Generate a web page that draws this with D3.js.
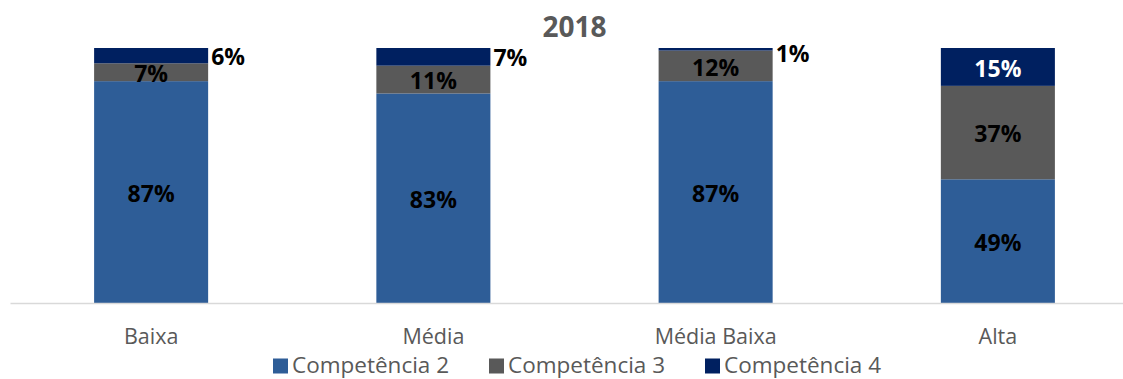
<!DOCTYPE html>
<html>
<head>
<meta charset="utf-8">
<script src="https://cdn.jsdelivr.net/npm/d3@7"></script>
<style>
  html, body { margin: 0; padding: 0; background: #fff; }
  svg { display: block; font-family: "Open Sans", sans-serif; }
</style>
</head>
<body>
<svg id="chart" width="1123" height="379"></svg>
<script>
// Categories and series (percent shares per group)
const categories = ["Baixa", "Média", "Média Baixa", "Alta"];
const seriesNames = ["Competência 2", "Competência 3", "Competência 4"];
const comp2 = [87, 83, 87, 49];
const comp3 = [7, 11, 12, 37];
const comp4 = [6, 7, 1, 15];
const chartTitle = "2018";

const colors = ["#2E5D97", "#595959", "#002060"];
const labelColors = ["#000", "#000", "#fff"];

const plotTop = 48, baseline = 303;

const svg = d3.select("#chart");

const rows = categories.map((c, i) => ({
  cat: c,
  "Competência 2": comp2[i],
  "Competência 3": comp3[i],
  "Competência 4": comp4[i]
}));

// 100% stacked layout
const stack = d3.stack().keys(seriesNames).offset(d3.stackOffsetExpand);
const layers = stack(rows);

const x = d3.scaleBand()
  .domain(categories)
  .range([10, 1139])
  .paddingInner(0.596)
  .paddingOuter(0.298);

const y = d3.scaleLinear().domain([0, 1]).range([baseline, plotTop]);

// Bars
const g = svg.append("g");
layers.forEach((layer, si) => {
  g.append("g")
    .attr("fill", colors[si])
    .selectAll("rect")
    .data(layer)
    .join("rect")
    .attr("x", d => x(d.data.cat))
    .attr("width", x.bandwidth())
    .attr("y", d => y(d[1]))
    .attr("height", d => y(d[0]) - y(d[1]));
});

// Category axis
const axis = svg.append("g")
  .attr("transform", `translate(0,${baseline})`)
  .call(d3.axisBottom(x).tickSize(0));
axis.select(".domain").attr("stroke", "#D9D9D9").attr("stroke-width", 1.5);
axis.selectAll("text")
  .attr("y", 41)
  .attr("dy", 0)
  .attr("fill", "#595959")
  .style("font-size", "21.5px")
  .style("font-family", "'Open Sans', sans-serif");

// Value labels: inside the segment when it is tall enough, otherwise beside the bar
layers.forEach((layer, si) => {
  const key = seriesNames[si];
  g.append("g")
    .selectAll("text")
    .data(layer)
    .join("text")
    .each(function (d) {
      const h = y(d[0]) - y(d[1]);
      const mid = (y(d[0]) + y(d[1])) / 2;
      const t = d3.select(this);
      if (h < 17 || (si === 2 && h < 20)) {
        t.attr("x", x(d.data.cat) + x.bandwidth() + 3)
          .attr("y", Math.max(mid + 3, 56))
          .attr("text-anchor", "start")
          .attr("fill", "#000");
      } else {
        t.attr("x", x(d.data.cat) + x.bandwidth() / 2)
          .attr("y", mid + 3.5)
          .attr("text-anchor", "middle")
          .attr("fill", labelColors[si]);
      }
    })
    .attr("dominant-baseline", "middle")
    .style("font-size", "23px")
    .style("font-weight", "bold")
    .text(d => d.data[key] + "%");
});

// Title
svg.append("text")
  .attr("x", (x.range()[0] + x.range()[1]) / 2)
  .attr("y", 37)
  .attr("text-anchor", "middle")
  .attr("fill", "#595959")
  .style("font-size", "28px")
  .style("font-weight", "bold")
  .text(chartTitle);

// Legend
const legend = svg.append("g").attr("transform", "translate(273,0)");
seriesNames.forEach((name, i) => {
  const item = legend.append("g").attr("transform", `translate(${i * 216},0)`);
  item.append("rect")
    .attr("x", 0).attr("y", 358.5)
    .attr("width", 15).attr("height", 15)
    .attr("fill", colors[i]);
  item.append("text")
    .attr("x", 19).attr("y", 372.5)
    .attr("fill", "#595959")
    .style("font-size", "22.5px")
    .text(name);
});
</script>
</body>
</html>
